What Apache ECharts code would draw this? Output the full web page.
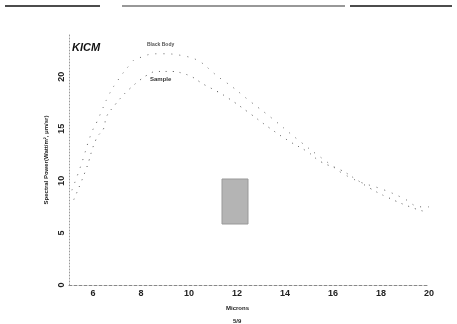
<!DOCTYPE html>
<html>
<head>
<meta charset="utf-8">
<script src="https://cdn.jsdelivr.net/npm/echarts@6/dist/echarts.min.js"></script>
<style>
  html, body {margin: 0; padding: 0; background: #fff;}
  #chart {width: 457px; height: 324px;}
</style>
</head>
<body>
<div id="chart"></div>
<script>
// wavelength (microns) / spectral power
const blackBodyX = [5.12, 5.5, 5.92, 6.17, 6.34, 6.63, 6.96, 7.59, 7.8, 8.73, 9.77, 11.45, 12.62, 13.46, 14.51, 15.64, 16.73, 18.16, 18.87, 19.71, 20.0];
const blackBodyY = [9.1, 11.5, 14.5, 15.7, 16.6, 18.1, 19.4, 21.3, 21.7, 22.2, 22.0, 19.6, 17.5, 16.0, 14.0, 12.0, 10.3, 9.1, 8.4, 7.5, 7.5];
const sampleX = [5.2, 5.71, 6.13, 6.46, 6.55, 6.92, 7.17, 7.51, 7.97, 8.22, 8.68, 9.14, 9.77, 10.74, 11.16, 11.66, 12.46, 13.34, 14.18, 14.93, 15.52, 16.27, 16.99, 17.53, 18.29, 19.33, 19.92];
const sampleY = [8.2, 11.1, 14.0, 15.1, 16.1, 17.3, 18.0, 18.8, 19.7, 20.1, 20.5, 20.5, 20.3, 19.1, 18.6, 17.9, 16.6, 15.1, 13.8, 12.8, 11.8, 11.1, 10.1, 9.3, 8.4, 7.4, 7.0];
const xTicks = [6, 8, 10, 12, 14, 16, 18, 20];
const yTicks = [0, 5, 10, 15, 20];

const zip = (xs, ys) => xs.map((x, i) => [x, ys[i]]);
const chart = echarts.init(document.getElementById('chart'));

const option = {
  animation: false,
  backgroundColor: '#fff',
  textStyle: {fontFamily: 'Liberation Sans, Arial, sans-serif'},
  grid: {left: 69, right: 28, top: 35, bottom: 39},
  xAxis: {
    type: 'value', min: 5, max: 20, interval: 1,
    splitLine: {show: false},
    axisTick: {show: false},
    axisLine: {lineStyle: {color: '#888', type: [3, 2], width: 1}},
    axisLabel: {
      margin: 4, fontSize: 9, fontWeight: 'bold', color: '#222',
      formatter: v => xTicks.includes(v) ? String(v) : ''
    }
  },
  yAxis: {
    type: 'value', min: 0, max: 24, interval: 5,
    splitLine: {show: false},
    axisTick: {show: false},
    axisLine: {show: true, lineStyle: {color: '#999', type: [1, 2], width: 1}},
    axisLabel: {
      margin: 3, fontSize: 9, fontWeight: 'bold', color: '#222', rotate: 90,
      formatter: v => yTicks.includes(v) ? String(v) : ''
    },
    name: 'Spectral Power(Watt/m², μm/sr)',
    nameLocation: 'middle', nameGap: 15,
    nameTextStyle: {fontSize: 6, fontWeight: 'bold', color: '#222'}
  },
  series: [
    {
      name: 'Black Body', type: 'line', smooth: true, symbol: 'none',
      data: zip(blackBodyX, blackBodyY),
      lineStyle: {color: '#666', width: 1, type: [1, 7]}
    },
    {
      name: 'Sample', type: 'line', smooth: true, symbol: 'none',
      data: zip(sampleX, sampleY),
      lineStyle: {color: '#555', width: 1, type: [1, 6]}
    }
  ],
  graphic: [
    // scanned page rule across the top
    {type: 'line', shape: {x1: 5, y1: 6, x2: 100, y2: 6}, style: {stroke: '#111', lineWidth: 1.5}},
    {type: 'line', shape: {x1: 122, y1: 6, x2: 345, y2: 6}, style: {stroke: '#333', lineWidth: 1.2}},
    {type: 'line', shape: {x1: 350, y1: 6, x2: 452, y2: 6}, style: {stroke: '#111', lineWidth: 1.5}},
    {type: 'text', left: 72, top: 42, style: {text: 'KICM', font: 'italic bold 11px Liberation Sans', fill: '#111'}},
    {type: 'text', left: 147, top: 42, style: {text: 'Black Body', font: 'bold 5px Liberation Sans', fill: '#555'}},
    {type: 'text', left: 150, top: 76, style: {text: 'Sample', font: 'bold 6px Liberation Sans', fill: '#333'}},
    {type: 'rect', shape: {x: 222, y: 179, width: 26, height: 45}, style: {fill: '#b4b4b4', stroke: '#999', lineWidth: 1}},
    {type: 'text', left: 226, top: 305, style: {text: 'Microns', font: 'bold 6px Liberation Sans', fill: '#222'}},
    {type: 'text', left: 233, top: 318, style: {text: '5/9', font: 'bold 6px Liberation Sans', fill: '#222'}}
  ]
};

chart.setOption(option);
</script>
</body>
</html>
